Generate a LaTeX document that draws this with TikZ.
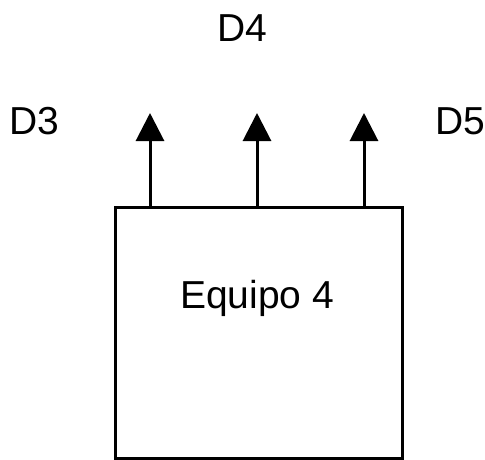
\documentclass[tikz,border=0pt]{standalone}
\usepackage{fontspec}
\setmainfont{Liberation Sans}
\usetikzlibrary{arrows.meta,positioning}

\begin{document}
\begin{tikzpicture}[
    x=1pt, y=-1pt,
    >={Triangle[width=28pt,length=28pt]},
    unit/.style={rectangle, draw=black, line width=3pt, inner sep=0pt,
                 minimum width=287pt, minimum height=251pt},
    txt/.style={anchor=base, inner sep=0pt, font=\fontsize{39}{46}\selectfont},
    arr/.style={->, line width=3pt}
  ]
    \useasboundingbox (0,0) rectangle (485,460);

    %--- Equipment box ---
    \node[unit] (box) at (258.5,332.5) {};
    \node[txt]  (eq)  at (257,308) {Equipo 4};

    %--- Output arrows ---
    \coordinate (t3) at (150,113);
    \coordinate (t4) at (257,113);
    \coordinate (t5) at (364,113);
    \draw[arr] (t3 |- box.north) -- (t3);
    \draw[arr] (t4 |- box.north) -- (t4);
    \draw[arr] (t5 |- box.north) -- (t5);

    %--- Labels ---
    \node[txt] (d3) at (34,135)  {D3};
    \node[txt] (d4) at (242,42)  {D4};
    \node[txt] (d5) at (460,135) {D5};
  \end{tikzpicture}
\end{document}
